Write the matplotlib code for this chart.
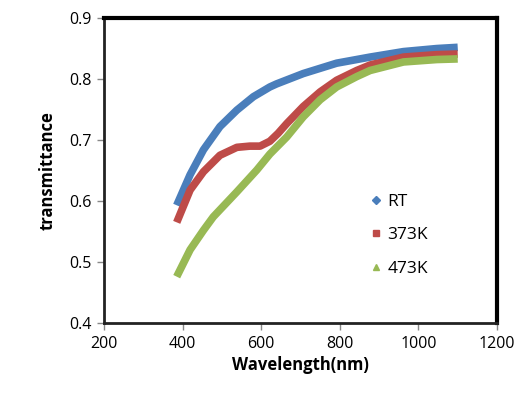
"""
Transmittance vs wavelength for RT / 373K / 473K
"""
import numpy as np
import matplotlib
matplotlib.use('Agg')
import matplotlib.pyplot as plt
from matplotlib.lines import Line2D

plt.rcParams['font.family'] = ['Open Sans', 'DejaVu Sans']

# values
wl_rt = [385, 419, 453, 495, 538, 580, 622, 639, 707, 792, 877, 962, 1047, 1100]
tr_rt = [0.593, 0.643, 0.684, 0.722, 0.749, 0.771, 0.787, 0.792, 0.809, 0.826, 0.836, 0.845, 0.850, 0.852]

wl_373 = [385, 419, 453, 495, 538, 571, 597, 622, 643, 665, 707, 750, 792, 843, 877, 962, 1047, 1100]
tr_373 = [0.565, 0.618, 0.648, 0.675, 0.688, 0.690, 0.690, 0.698, 0.711, 0.727, 0.755, 0.779, 0.798,
          0.814, 0.823, 0.836, 0.840, 0.841]

wl_473 = [385, 419, 453, 478, 538, 589, 622, 665, 707, 750, 792, 843, 877, 962, 1047, 1100]
tr_473 = [0.476, 0.520, 0.552, 0.574, 0.615, 0.651, 0.677, 0.705, 0.738, 0.766, 0.787, 0.804,
          0.814, 0.828, 0.832, 0.833]

labels = ['RT', '373K', '473K']
colors = ['#4A7EBB', '#BE4B48', '#98B954']
markers = ['D', 's', '^']

fig = plt.figure(figsize=(5.18, 3.94), dpi=100)
ax = fig.add_axes([0.2008, 0.1802, 0.7587, 0.774])

for wl, tr, c in zip([wl_rt, wl_373, wl_473], [tr_rt, tr_373, tr_473], colors):
    ax.plot(wl, tr, '-', color=c, linewidth=5.5, solid_capstyle='butt', solid_joinstyle='round')

ax.set_xlim(200, 1200)
ax.set_ylim(0.4, 0.9)
ax.set_xticks(np.arange(200, 1201, 200))
ax.set_yticks(np.arange(0.4, 0.91, 0.1))
ax.set_yticklabels([f'{v:.1f}' for v in np.arange(0.4, 0.91, 0.1)])

for side in ['top', 'right']:
    ax.spines[side].set_linewidth(3)
    ax.spines[side].set_color('black')
for side in ['left', 'bottom']:
    ax.spines[side].set_linewidth(2)
    ax.spines[side].set_color('#222222')

ax.tick_params(direction='out', length=5, width=1, color='#888888', labelsize=11.5, pad=4)
ax.set_xlabel('Wavelength(nm)', fontsize=12, fontweight='bold', labelpad=3)
ax.set_ylabel('transmittance', fontsize=12, fontweight='bold', labelpad=9)

handles = [Line2D([], [], linestyle='none', marker=m, color=c, markersize=4.5)
           for m, c in zip(markers, colors)]
ax.legend(handles, labels, loc='upper left', bbox_to_anchor=(0.64, 0.475),
          frameon=False, fontsize=12.5, handlelength=0.6, handletextpad=0.35,
          labelspacing=1.0)

plt.savefig('out.png', dpi=100)
plt.close()
